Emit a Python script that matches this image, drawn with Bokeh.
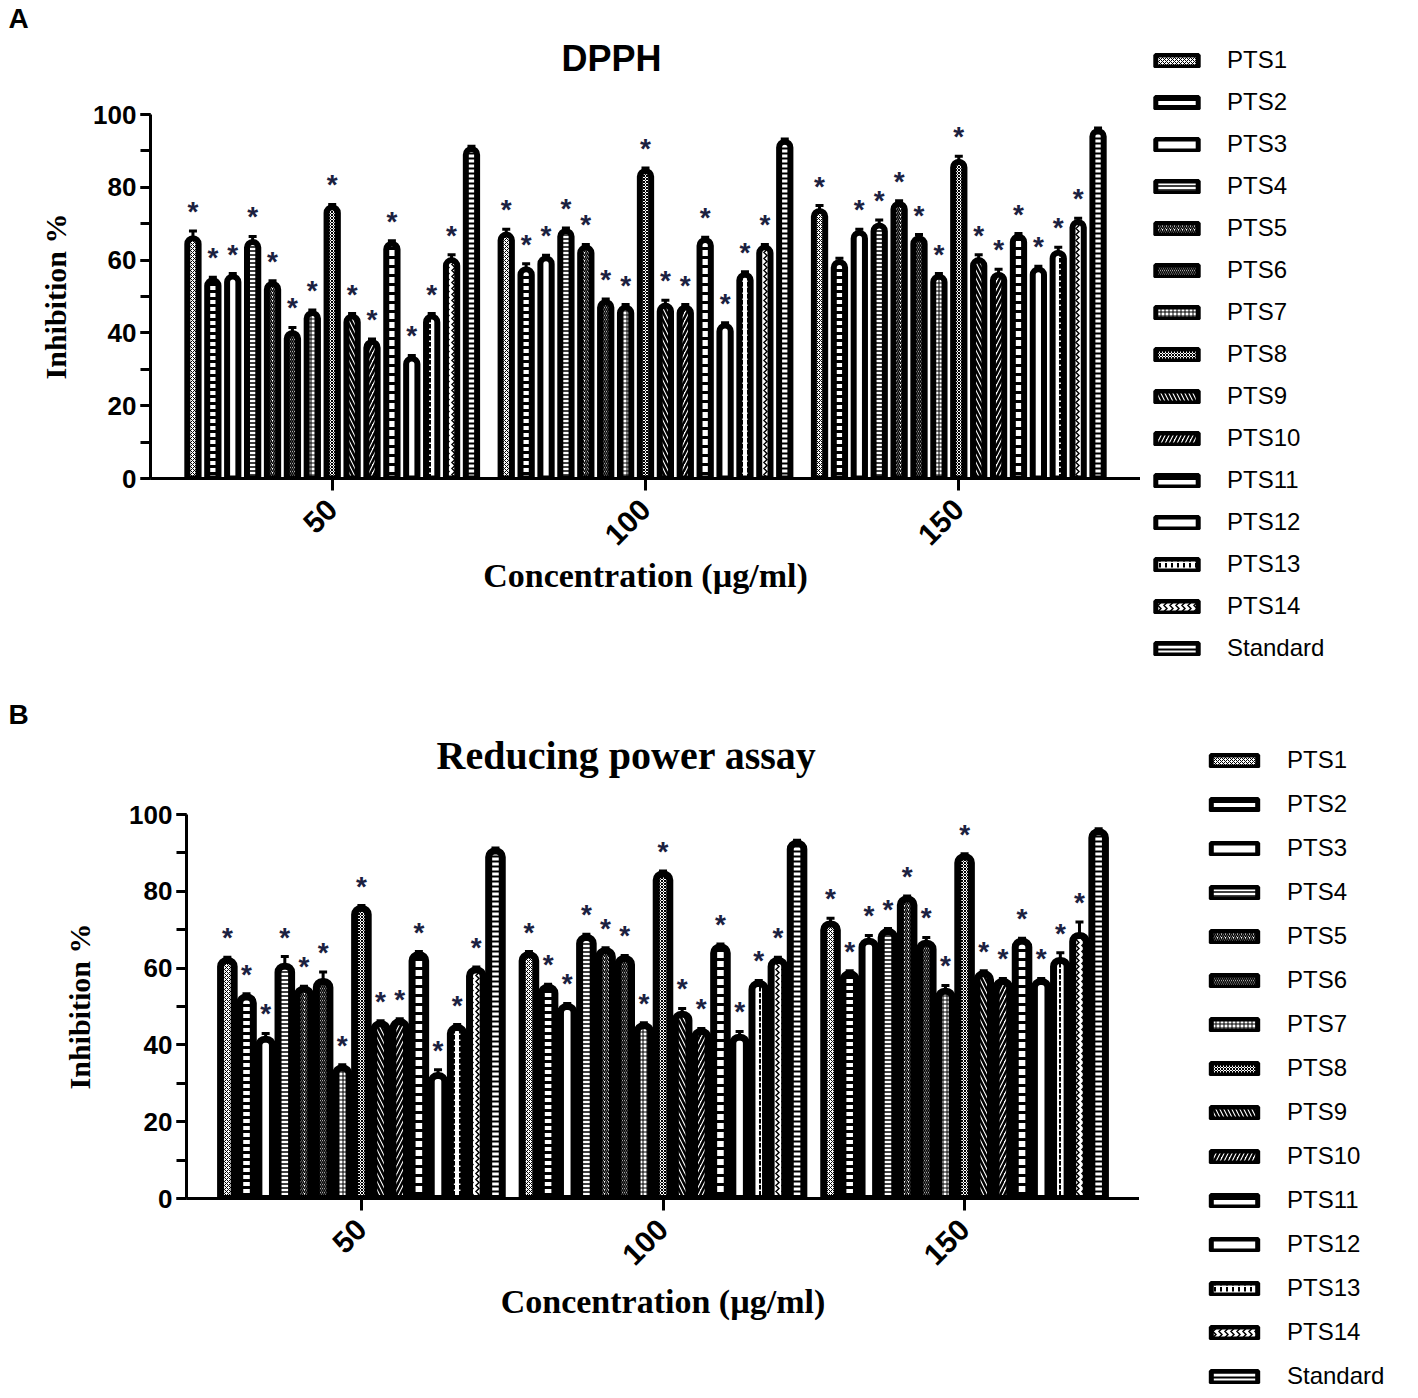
import math
from bokeh.plotting import figure
from bokeh.models import ColumnDataSource, FactorRange, Range1d, SingleIntervalTicker, Legend, LegendItem, Label
from bokeh.transform import dodge
from bokeh.layouts import column, row
from bokeh.embed import file_html
from bokeh.resources import INLINE
from bokeh.core.properties import value

# ---------------- data ----------------
concentrations = ["50", "100", "150"]
series = ["PTS1", "PTS2", "PTS3", "PTS4", "PTS5", "PTS6", "PTS7", "PTS8",
          "PTS9", "PTS10", "PTS11", "PTS12", "PTS13", "PTS14", "Standard"]

# DPPH inhibition % (one value per series, in series order)
dpph_50 = [66, 54.5, 55.5, 65, 53.5, 40, 45.5, 74.5, 44.5, 37.5, 64.5, 33, 44.5, 60, 90.5]
dpph_100 = [67, 57.5, 60.5, 68, 63.5, 48.5, 47, 84.5, 47.5, 47, 65.5, 42, 56, 63.5, 92.5]
dpph_150 = [73.5, 59.5, 67.5, 69.5, 75.5, 66, 55.5, 87, 60, 56, 66.5, 57.5, 62, 70.5, 95.5]
dpph_err_50 = [2, 0.8, 0.8, 1.5, 0.8, 1.5, 0.8, 0.8, 0.8, 0.8, 0.8, 0.8, 0.8, 1.5, 0.8]
dpph_err_100 = [1.5, 1.5, 0.8, 0.8, 0.8, 0.8, 0.8, 0.8, 1.5, 0.8, 0.8, 0.8, 0.8, 0.8, 0.8]
dpph_err_150 = [1.5, 1, 1, 1.5, 0.8, 1, 0.8, 1.5, 1.5, 1.5, 0.8, 0.8, 1.5, 1, 0.8]
dpph_sig_50 = ["*"] * 14 + [""]
dpph_sig_100 = ["*"] * 14 + [""]
dpph_sig_150 = ["*", ""] + ["*"] * 12 + [""]

# Reducing power assay inhibition %
rp_50 = [62, 52.5, 41.5, 60.5, 54.5, 56.5, 34, 75.5, 45.5, 46, 63.5, 32, 44.5, 59.5, 90.5]
rp_100 = [63.5, 55, 50, 68, 64.5, 62.5, 45, 84.5, 48, 43.5, 65.5, 42, 56, 62, 92.5]
rp_150 = [71.5, 58.5, 67, 69.5, 78, 66.5, 54, 89, 58.5, 56.5, 67, 56.5, 62, 68.5, 95.5]
rp_err_50 = [0.8, 0.8, 1.5, 2.5, 0.8, 2.5, 0.8, 0.8, 0.8, 0.8, 0.8, 1.5, 0.8, 0.8, 0.8]
rp_err_100 = [0.8, 0.8, 0.8, 0.8, 0.8, 0.8, 0.8, 0.8, 1.5, 0.8, 0.8, 1.5, 0.8, 0.8, 0.8]
rp_err_150 = [1.5, 0.8, 1.5, 0.8, 0.8, 1.5, 1.5, 0.8, 0.8, 0.8, 0.8, 0.8, 2, 3.5, 0.8]
rp_sig_50 = ["*"] * 14 + [""]
rp_sig_100 = ["*"] * 14 + [""]
rp_sig_150 = ["*"] * 14 + [""]

# ---------------- styles ----------------
hatch_styles = [("x", 4, 1), ("-", 7, 3), (" ", 4, 1), ("-", 4, 1.5), ("/", 4, 1.5),
                ("\\", 4, 1.5), ("+", 4, 1), ("x", 3, 1), ("\\", 8, 2.5), ("/", 8, 2.5),
                ("-", 9, 3), (" ", 4, 1), (":", 6, 2), (">", 6, 1.5), ("-", 5, 2)]
STAR_COLOR = "#1b2140"
SLOT = 0.0635
LETTER_W = 36


def bar_style(i, lw):
    pat, sc, wt = hatch_styles[i]
    return dict(fill_color="white", line_color="black", line_width=lw,
                hatch_pattern=pat, hatch_scale=sc, hatch_weight=wt, hatch_color="black")


def blank_fig(width, height, **borders):
    f = figure(width=width, height=height, x_range=Range1d(0, 1), y_range=Range1d(0, 1),
               output_backend="svg", toolbar_location=None, x_axis_location=None,
               y_axis_location=None, **borders)
    f.outline_line_color = None
    f.grid.visible = False
    return f


def make_panel(letter, title, title_font, title_size, vals, errs, sigs, *, width, height,
               bl, bt, bb, bar_w, lw, title_offset, title_standoff, letter_top,
               ylabel_standoff, xlabel_standoff, leg_width, leg_left, leg_top,
               leg_glyph_w, leg_spacing):
    p = figure(width=width, height=height, title=title,
               x_range=FactorRange(factors=concentrations, range_padding=0.08,
                                   range_padding_units="absolute"),
               y_range=Range1d(0, 100), output_backend="svg", toolbar_location=None,
               min_border_left=bl, min_border_right=0, min_border_top=bt,
               min_border_bottom=bb)
    p.outline_line_color = None
    p.xgrid.visible = False
    p.ygrid.visible = False

    p.title.align = "left"
    p.title.offset = title_offset
    p.title.standoff = title_standoff
    p.title.text_font = title_font
    p.title.text_font_style = "bold"
    p.title.text_font_size = title_size
    p.title.text_color = "black"

    p.yaxis.ticker = SingleIntervalTicker(interval=20, num_minor_ticks=2)
    for ax in (p.xaxis[0], p.yaxis[0]):
        ax.axis_line_width = 3
        ax.axis_line_color = "black"
        ax.major_tick_line_width = 3
        ax.major_tick_in = 0
        ax.major_label_text_font = "Liberation Sans"
        ax.major_label_text_font_style = "bold"
        ax.major_label_text_color = "black"
        ax.axis_label_text_font = "Liberation Serif"
        ax.axis_label_text_font_style = "bold"
        ax.axis_label_text_color = "black"
    p.yaxis.major_label_text_font_size = "26px"
    p.xaxis.major_label_text_font_size = "30px"
    p.yaxis.axis_label_text_font_size = "30px"
    p.xaxis.axis_label_text_font_size = "34px"
    p.yaxis.major_tick_out = 10
    p.yaxis.minor_tick_out = 10
    p.yaxis.minor_tick_in = 0
    p.yaxis.minor_tick_line_width = 3
    p.yaxis.major_label_standoff = 4
    p.yaxis.axis_label = "Inhibition %"
    p.yaxis.axis_label_standoff = ylabel_standoff
    p.xaxis.major_tick_out = 12
    p.xaxis.major_label_standoff = 14
    p.xaxis.major_label_orientation = math.pi / 4
    p.xaxis.axis_label = "Concentration (µg/ml)"
    p.xaxis.axis_label_standoff = xlabel_standoff

    # panel letter in a narrow blank strip at the left
    lf = blank_fig(LETTER_W, height, min_border=0)
    lf.add_layout(Label(x=8, y=height - letter_top, x_units="screen", y_units="screen",
                        text=letter, text_font="Liberation Sans", text_font_style="bold",
                        text_font_size="28px", text_baseline="top", text_color="black"))

    # legend in its own narrow blank figure to the right of the chart
    lg = blank_fig(leg_width, height, min_border_left=leg_left, min_border_top=leg_top,
                   min_border_right=0, min_border_bottom=0)

    items = []
    for i, name in enumerate(series):
        v = [vals[c][i] for c in range(3)]
        e = [errs[c][i] for c in range(3)]
        s = [sigs[c][i] for c in range(3)]
        src = ColumnDataSource(dict(conc=concentrations, val=v, err=e,
                                    upper=[a + b for a, b in zip(v, e)], star=s))
        xd = dodge("conc", (i - 7) * SLOT, range=p.x_range)
        p.vbar(x=xd, top="val", width=bar_w, source=src, border_radius=(6, 6, 0, 0),
               **bar_style(i, lw))
        p.segment(x0=xd, y0="val", x1=xd, y1="upper", source=src,
                  line_color="black", line_width=3)
        p.scatter(x=xd, y="upper", source=src, marker="dash", size=8,
                  line_color="black", line_width=3)
        p.text(x=xd, y="upper", text="star", source=src, text_align="center",
               text_baseline="bottom", y_offset=-4, text_font=value("Liberation Sans"),
               text_font_style="bold", text_font_size="28px", text_color=STAR_COLOR)
        # swatch renderer for the legend (not drawn itself)
        r = lg.vbar(x=[0.5], top=[0.5], width=0.1, visible=False, **bar_style(i, 5))
        items.append(LegendItem(label=name, renderers=[r]))

    leg = Legend(items=items, location="top_left", glyph_width=leg_glyph_w,
                 glyph_height=15, label_standoff=24, label_height=24,
                 spacing=leg_spacing, padding=0, margin=0,
                 border_line_color=None, background_fill_alpha=0,
                 label_text_font="Liberation Sans", label_text_font_size="24px",
                 label_text_color="black")
    lg.add_layout(leg, "center")
    return row(column(lf), p, column(lg), spacing=0)


panelA = make_panel("A", "DPPH", "Liberation Sans", "36px",
                    [dpph_50, dpph_100, dpph_150], [dpph_err_50, dpph_err_100, dpph_err_150],
                    [dpph_sig_50, dpph_sig_100, dpph_sig_150],
                    width=1140 - LETTER_W, height=693, bl=150 - LETTER_W, bt=112, bb=215,
                    bar_w=0.036, lw=6, title_offset=411, title_standoff=71, letter_top=2,
                    ylabel_standoff=18, xlabel_standoff=0,
                    leg_width=278, leg_left=10, leg_top=46, leg_glyph_w=53, leg_spacing=14)

panelB = make_panel("B", "Reducing power assay", "Liberation Serif", "40px",
                    [rp_50, rp_100, rp_150], [rp_err_50, rp_err_100, rp_err_150],
                    [rp_sig_50, rp_sig_100, rp_sig_150],
                    width=1139 - LETTER_W, height=705, bl=186 - LETTER_W, bt=120, bb=200,
                    bar_w=0.045, lw=7, title_offset=250, title_standoff=74, letter_top=5,
                    ylabel_standoff=30, xlabel_standoff=6,
                    leg_width=279, leg_left=66, leg_top=53, leg_glyph_w=58, leg_spacing=16)

layout = column(panelA, panelB, spacing=0)
open("out.html", "w").write(file_html(layout, INLINE))
